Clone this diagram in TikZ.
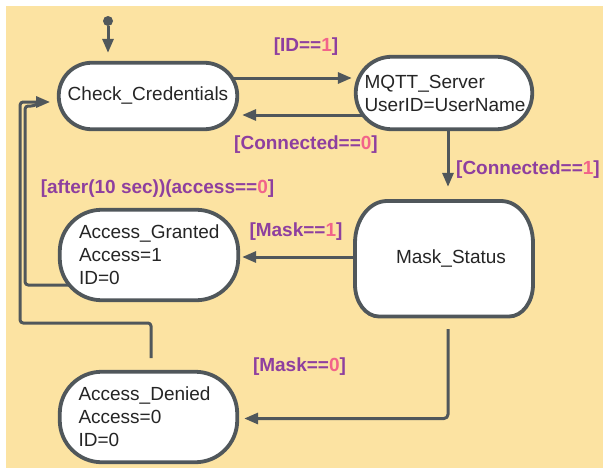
\documentclass[tikz,border=0pt]{standalone}
\usepackage{fontspec}
\setmainfont{Liberation Sans}
\usetikzlibrary{arrows.meta,calc}
\definecolor{bgc}{HTML}{FCE3A2}
\definecolor{linec}{HTML}{50575B}
\definecolor{purc}{HTML}{8E3F9F}
\definecolor{pinkc}{HTML}{F2648A}
\definecolor{txtc}{HTML}{252525}
\newcommand\pk[1]{\textcolor{pinkc}{#1}}
\pgfdeclarelayer{bg}
\pgfsetlayers{bg,main}
\begin{document}
\begin{tikzpicture}[x=1pt,y=-1pt,
  state/.style={draw=linec, line width=3.8pt, fill=white, rounded corners=#1, inner sep=0pt, text=txtc, font=\fontsize{19}{23}\selectfont, align=left},
  state/.default=33pt,
  arr/.style={draw=linec, line width=3pt, line join=round, -{Triangle[length=14pt,width=11pt]}},
  plain/.style={draw=linec, line width=3pt, line join=round},
  lbl/.style={text=purc, font=\bfseries\fontsize{19}{23}\selectfont, inner sep=0pt}]
\useasboundingbox (0,0) rectangle (603,471);
% Mask_Status outline (elliptical corners)
\draw[draw=linec, line width=3.8pt, fill=white]
  (387,201) -- (501,201) .. controls (518.7,201) and (533,219.8) .. (533,243)
  -- (533,284.5) .. controls (533,302.2) and (522.3,316.5) .. (509,316.5)
  -- (379,316.5) .. controls (365.7,316.5) and (355,302.2) .. (355,284.5)
  -- (355,243) .. controls (355,219.8) and (369.3,201) .. cycle;
% states
\node[state=33pt, minimum width=178.5pt, minimum height=66.5pt] (cc) at (148,96) {Check\_Credentials};
\node[state=36pt, minimum width=176.5pt, minimum height=72.5pt, text width=159pt] (mq) at (444,93) {MQTT\_Server\\UserID=UserName};
\node[state=42pt, draw=none, fill=none, minimum width=178pt, minimum height=115.5pt] (ms) at (444,258.5) {\hspace*{14pt}Mask\_Status};
\node[state=42pt, minimum width=178.5pt, minimum height=90.5pt, text width=140pt] (ag) at (149,255) {Access\_Granted\\Access=1\\ID=0};
\node[state=42pt, minimum width=177.5pt, minimum height=90.5pt, text width=140pt] (ad) at (148.5,417) {Access\_Denied\\Access=0\\ID=0};
\node[circle, fill=linec, inner sep=0pt, minimum size=10pt] (init) at (108,21) {};
% labels
\node[lbl] (l1) at (306,47) {[ID==\pk{1}]};
\node[lbl] (l2) at (306,145) {[Connected==\pk{0}]};
\node[lbl, anchor=west] (l3) at (456,170) {[Connected==\pk{1}]};
\node[lbl] (l4) at (157.5,189) {[after(10 sec))(access==\pk{0}]};
\node[lbl] (l5) at (296,232) {[Mask==\pk{1}]};
\node[lbl] (l6) at (299.5,367) {[Mask==\pk{0}]};
\begin{pgfonlayer}{bg}
\fill[white] (0,0) rectangle (603,471);
\fill[bgc] (6,6) rectangle (603,468);
% connectors
\draw[arr] (init) -- ($(cc.north -| init)+(0,-8)$);
\draw[arr] ($(cc.center)+(0,-18)$) -- ($(mq.west)+(-2,-15)$);
\draw[arr] ($(mq.center)+(0,22)$) -- ($(cc.east)+(3,19)$);
\draw[arr] ($(mq.center)+(4,0)$) -- ($(ms.north)+(4,-12)$);
\draw[arr] ($(ms.center)+(0,-1.5)$) -- ($(ag.east)+(2,2)$);
\draw[arr, rounded corners=4pt] ($(ms.south)+(4,11)$) |- ($(ad.east)+(5,1.5)$);
\draw[arr, rounded corners=3pt] ($(ad.north)+(2.5,-11.75)$) |- ($(cc.west)+(-36.75,227)$) |- ($(cc.west)+(-6.75,6)$);
\draw[plain, rounded corners=3pt] ($(ag.center)+(-60,30)$) -| ($(cc.west)+(-31.75,10)$) -- ($(cc.west)+(-22.75,10)$) -- ($(cc.west)+(-16.75,6)$);
\end{pgfonlayer}
\end{tikzpicture}
\end{document}
